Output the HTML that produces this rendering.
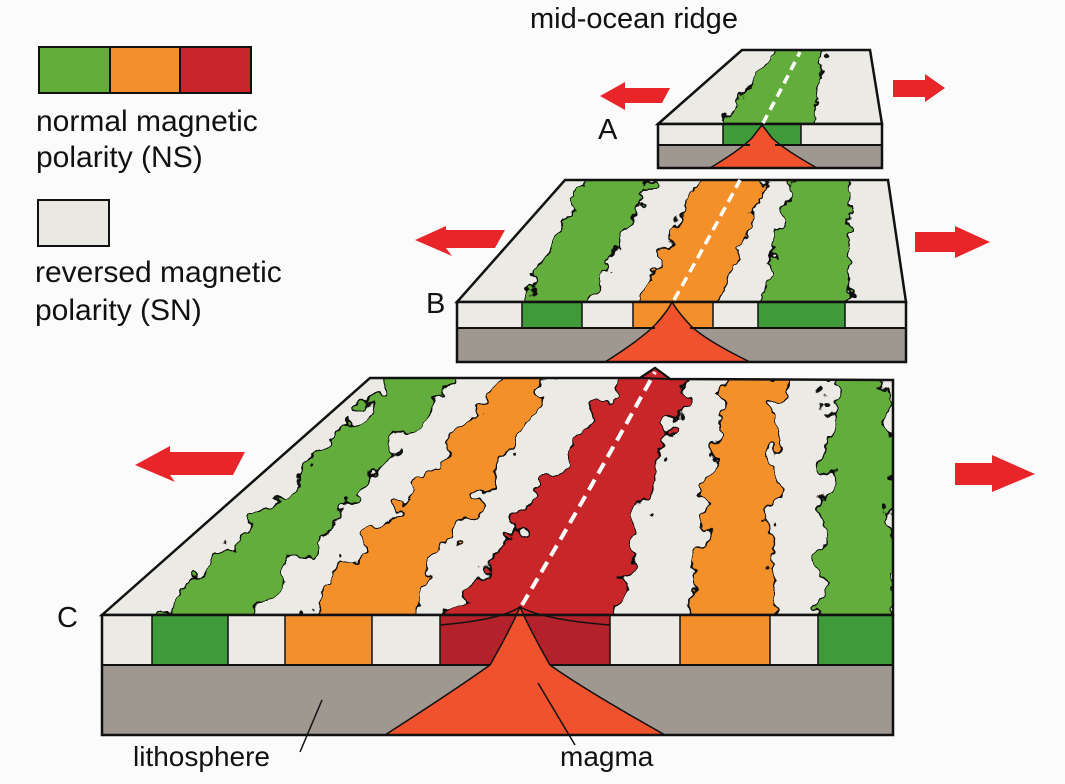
<!DOCTYPE html>
<html><head><meta charset="utf-8"><style>
html,body{margin:0;padding:0;background:#fbfbfb}
svg{display:block}
text{font-family:"Liberation Sans",sans-serif;fill:#111}
</style></head><body>
<svg width="1065" height="784" viewBox="0 0 1065 784" xmlns="http://www.w3.org/2000/svg">
<defs>
<filter id="wob" x="-20%" y="-20%" width="140%" height="140%">
<feTurbulence type="fractalNoise" baseFrequency="0.04" numOctaves="3" seed="3"/>
<feDisplacementMap in="SourceGraphic" scale="42" xChannelSelector="R" yChannelSelector="G"/>
</filter>
<filter id="wob2" x="-20%" y="-20%" width="140%" height="140%">
<feTurbulence type="fractalNoise" baseFrequency="0.06" numOctaves="3" seed="7"/>
<feDisplacementMap in="SourceGraphic" scale="24" xChannelSelector="R" yChannelSelector="G"/>
</filter>
<clipPath id="cC"><polygon points="370,378 893,380 893,615 102,615"/></clipPath>
<clipPath id="cB"><polygon points="565,180 888,180 906,302 457,302"/></clipPath>
<clipPath id="cA"><polygon points="742,50 870,50 882,124 658,124"/></clipPath>
</defs>
<rect width="1065" height="784" fill="#fbfbfb"/>

<!-- legend -->
<rect x="39" y="47" width="71" height="46" fill="#62ad3a"/>
<rect x="110" y="47" width="70" height="46" fill="#f4902c"/>
<rect x="180" y="47" width="71" height="46" fill="#c9262b"/>
<rect x="39" y="47" width="212" height="46" fill="none" stroke="#111" stroke-width="2"/>
<line x1="110" y1="47" x2="110" y2="93" stroke="#111" stroke-width="2"/>
<line x1="180" y1="47" x2="180" y2="93" stroke="#111" stroke-width="2"/>
<text x="36" y="131" font-size="30">normal magnetic</text>
<text x="36" y="167" font-size="30">polarity (NS)</text>
<rect x="38" y="200" width="71" height="46" fill="#e9e8e3" stroke="#111" stroke-width="2"/>
<text x="35" y="282" font-size="30">reversed magnetic</text>
<text x="35" y="320" font-size="30">polarity (SN)</text>
<text x="530" y="28" font-size="29">mid-ocean ridge</text>
<text x="598" y="139" font-size="29">A</text>
<text x="426" y="313" font-size="29">B</text>
<text x="57" y="627" font-size="29">C</text>
<text x="133" y="766" font-size="28">lithosphere</text>
<text x="560" y="766" font-size="28">magma</text>

<!-- arrows -->
<g fill="#e8262a">
<polygon points="600,96 625,82 625,88 670,88 662,103 625,103 625,110"/>
<polygon points="893,80 925,80 925,74 945,88 925,102 925,97 893,97"/>
<polygon points="415,240 446,226 446,230 505,230 495,248 446,248 452,256"/>
<polygon points="915,232 955,232 955,226 990,242 955,258 955,252 915,252"/>
<polygon points="135,465 170,446 170,452 245,452 233,475 170,475 175,482"/>
<polygon points="955,463 992,463 992,455 1035,474 992,492 992,485 955,485"/>
</g>

<!-- Block C -->
<polygon points="370,378 893,380 893,615 102,615" fill="#ebeae5"/>
<g clip-path="url(#cC)">
 <g filter="url(#wob)" stroke="#111" stroke-width="2">
  <polygon points="405,365 470,365 240,630 150,630" fill="#62ad3a"/>
  <polygon points="520,365 565,365 390,630 290,630" fill="#f4902c"/>
  <polygon points="625,365 690,365 610,630 445,630" fill="#c9262b"/>
  <polygon points="730,365 780,365 770,630 682,630" fill="#f4902c"/>
  <polygon points="830,365 885,365 900,630 818,630" fill="#62ad3a"/>
 </g>
</g>
<polygon points="370,378 640,378 655,368 670,379 893,380 893,615 102,615" fill="none" stroke="#111" stroke-width="2.5"/>
<polygon points="640,378 655,368 670,379" fill="#c9262b" stroke="#111" stroke-width="2"/>
<rect x="102" y="615" width="791" height="50" fill="#ebeae5"/>
<rect x="152" y="615" width="76" height="50" fill="#3f9a3a"/>
<rect x="285" y="615" width="87" height="50" fill="#f4902c"/>
<rect x="440" y="615" width="170" height="50" fill="#b3222a"/>
<rect x="680" y="615" width="90" height="50" fill="#f4902c"/>
<rect x="818" y="615" width="75" height="50" fill="#3f9a3a"/>
<rect x="102" y="665" width="791" height="70" fill="#9f9891"/>
<path d="M385,735 Q455,690 490,665 Q510,630 520,607 Q530,630 550,665 Q585,690 665,735 Z" fill="#ef522c"/>
<path d="M440,625 Q500,620 520,607 Q545,620 610,625" fill="none" stroke="#111" stroke-width="1.5"/>
<path d="M385,735 Q455,690 490,665 Q510,630 520,607 Q530,630 550,665 Q585,690 665,735" fill="none" stroke="#111" stroke-width="1.5"/>
<g fill="none" stroke="#111">
<rect x="102" y="615" width="791" height="120" stroke-width="2.5"/>
<line x1="102" y1="665" x2="490" y2="665" stroke-width="2"/>
<line x1="550" y1="665" x2="893" y2="665" stroke-width="2"/>
<path d="M152,615V665M228,615V665M285,615V665M372,615V665M440,615V665M610,615V665M680,615V665M770,615V665M818,615V665" stroke-width="1.5"/>
</g>
<path d="M522,605 Q590,490 655,372" fill="none" stroke="#fff" stroke-width="4" stroke-dasharray="12,7"/>
<line x1="300" y1="752" x2="322" y2="700" stroke="#111" stroke-width="1.5"/>
<line x1="575" y1="745" x2="538" y2="683" stroke="#111" stroke-width="1.5"/>

<!-- Block B -->
<polygon points="565,180 888,180 906,302 457,302" fill="#ebeae5"/>
<g clip-path="url(#cB)">
 <g filter="url(#wob2)" stroke="#111" stroke-width="1.8">
  <polygon points="590,172 655,172 585,312 520,312" fill="#62ad3a"/>
  <polygon points="705,172 770,172 715,312 632,312" fill="#f4902c"/>
  <polygon points="795,172 850,172 848,312 758,312" fill="#62ad3a"/>
 </g>
</g>
<polygon points="565,180 888,180 906,302 457,302" fill="none" stroke="#111" stroke-width="2.5"/>
<rect x="457" y="302" width="449" height="26" fill="#ebeae5"/>
<rect x="522" y="302" width="60" height="26" fill="#3f9a3a"/>
<rect x="633" y="302" width="80" height="26" fill="#f4902c"/>
<rect x="758" y="302" width="87" height="26" fill="#3f9a3a"/>
<rect x="457" y="328" width="449" height="34" fill="#9f9891"/>
<path d="M605,362 Q640,340 655,325 Q667,312 672,302 Q678,312 690,325 Q705,340 750,362 Z" fill="#ef522c" stroke="#111" stroke-width="1.5"/>
<g fill="none" stroke="#111">
<rect x="457" y="302" width="449" height="60" stroke-width="2.5"/>
<line x1="457" y1="328" x2="655" y2="328" stroke-width="2"/>
<line x1="690" y1="328" x2="906" y2="328" stroke-width="2"/>
<path d="M522,302V328M582,302V328M633,302V328M713,302V328M758,302V328M845,302V328" stroke-width="1.5"/>
</g>
<path d="M674,300 Q708,240 740,180" fill="none" stroke="#fff" stroke-width="3.5" stroke-dasharray="10,6"/>

<!-- Block A -->
<polygon points="742,50 870,50 882,124 658,124" fill="#ebeae5"/>
<g clip-path="url(#cA)">
 <g filter="url(#wob2)" stroke="#111" stroke-width="1.6">
  <polygon points="780,42 825,42 812,132 718,132" fill="#62ad3a"/>
 </g>
</g>
<polygon points="742,50 870,50 882,124 658,124" fill="none" stroke="#111" stroke-width="2.5"/>
<rect x="658" y="124" width="224" height="21" fill="#ebeae5"/>
<rect x="723" y="124" width="78" height="21" fill="#3f9a3a"/>
<rect x="658" y="145" width="224" height="23" fill="#9f9891"/>
<path d="M710,168 Q740,150 752,138 Q758,130 762,125 Q766,130 772,138 Q785,150 817,168 Z" fill="#ef522c" stroke="#111" stroke-width="1.5"/>
<g fill="none" stroke="#111">
<rect x="658" y="124" width="224" height="44" stroke-width="2.5"/>
<line x1="658" y1="145" x2="750" y2="145" stroke-width="2"/>
<line x1="775" y1="145" x2="882" y2="145" stroke-width="2"/>
<path d="M723,124V145M801,124V145" stroke-width="1.5"/>
</g>
<path d="M763,123 Q782,88 800,52" fill="none" stroke="#fff" stroke-width="3.5" stroke-dasharray="9,6"/>
</svg>
</body></html>
